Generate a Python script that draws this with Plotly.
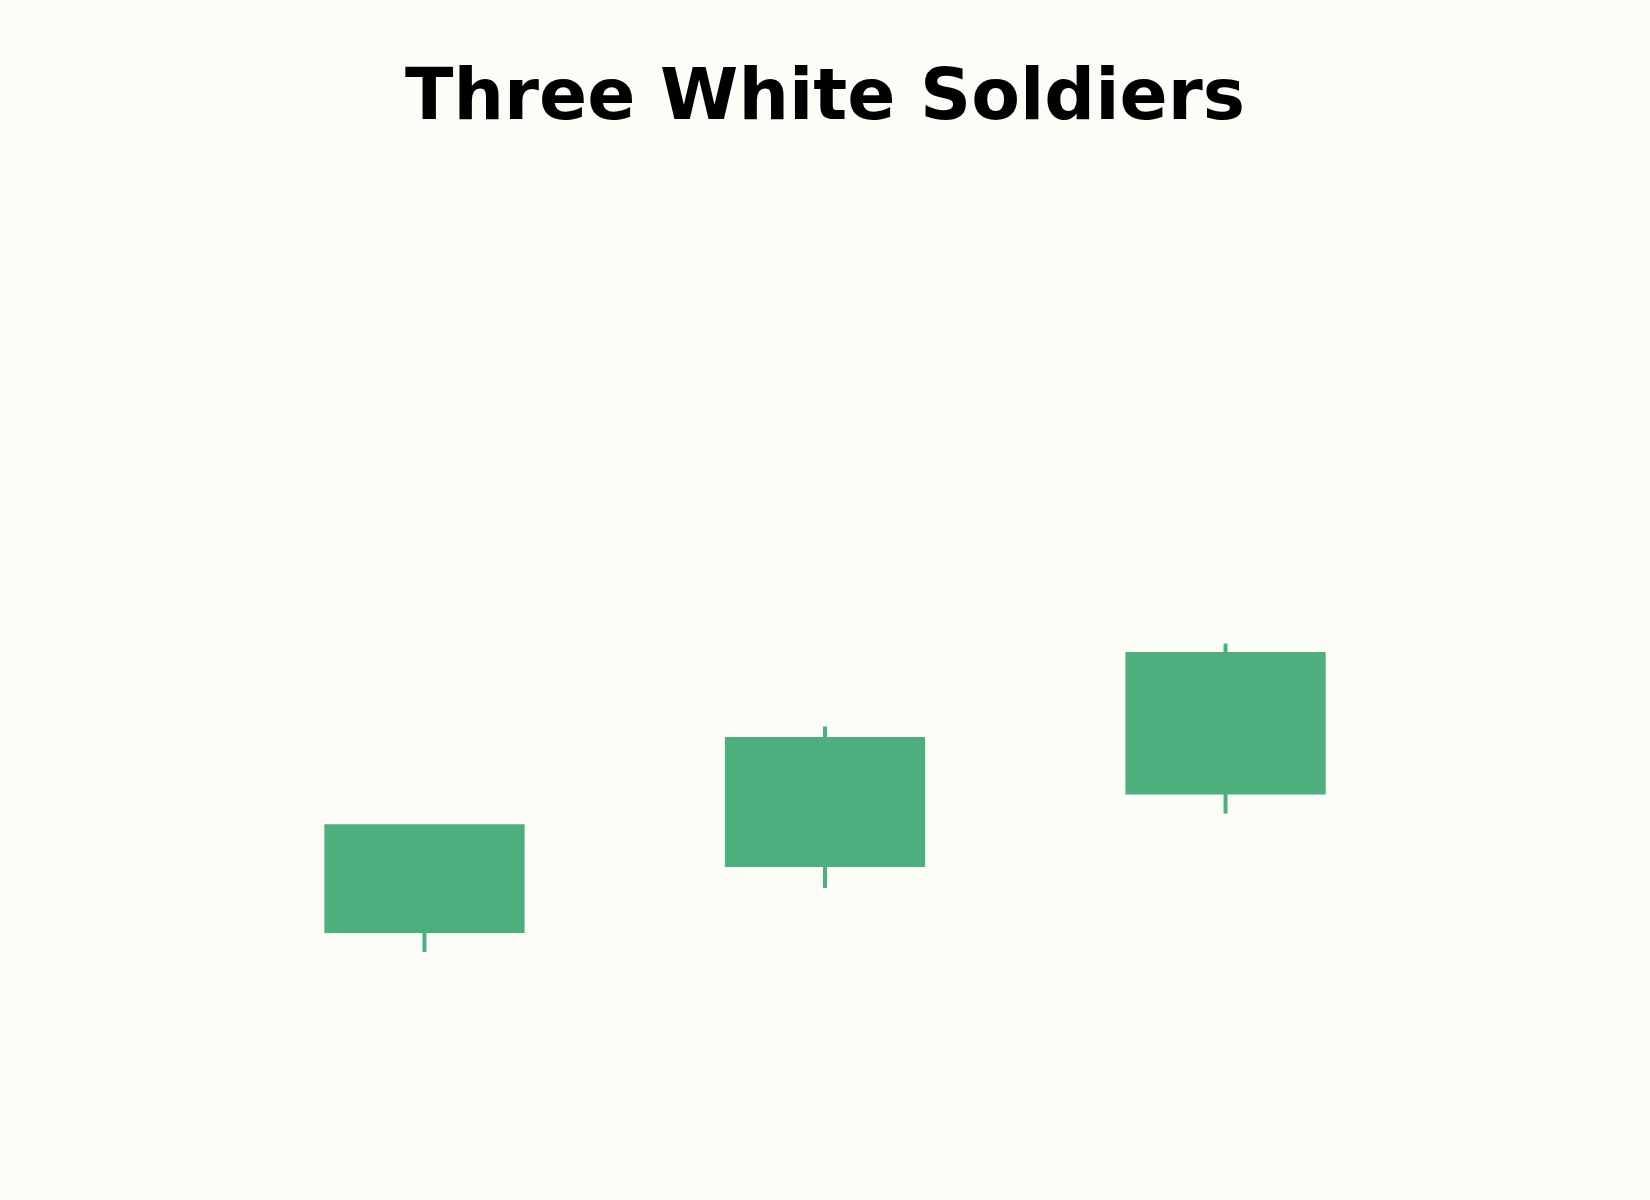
import plotly.graph_objects as go

# three sessions, rising closes
days = ["Day 1", "Day 2", "Day 3"]
open_prices = [100, 103.15, 106.6]
high_prices = [105, 109.75, 113.7]
low_prices = [99, 102.05, 105.6]
close_prices = [105, 109.15, 113.2]

green = "#4DAF7E"
bg = "#FDFDF8"

fig = go.Figure(data=[go.Candlestick(
    x=days,
    open=open_prices,
    high=high_prices,
    low=low_prices,
    close=close_prices,
    increasing=dict(line=dict(color=green, width=4), fillcolor=green),
    decreasing=dict(line=dict(color="#D9534F", width=4), fillcolor="#D9534F"),
    showlegend=False,
)])

fig.update_layout(
    width=1650,
    height=1200,
    paper_bgcolor=bg,
    plot_bgcolor=bg,
    margin=dict(l=80, r=80, t=100, b=80),
    title=dict(
        text="<b>Three White Soldiers</b>",
        font=dict(family="DejaVu Sans", size=71, color="black"),
        x=0.5, xanchor="center",
        y=1 - 94 / 1200, yanchor="middle", yref="container",
    ),
    xaxis=dict(visible=False, type="category", range=[-0.86, 2.86],
               rangeslider=dict(visible=False)),
    yaxis=dict(visible=False, range=[91, 139.6]),
)

# no page margin so the paper fills the window
fig.write_html("out.html", config={"displayModeBar": False},
               post_script="document.body.style.margin='0';")
